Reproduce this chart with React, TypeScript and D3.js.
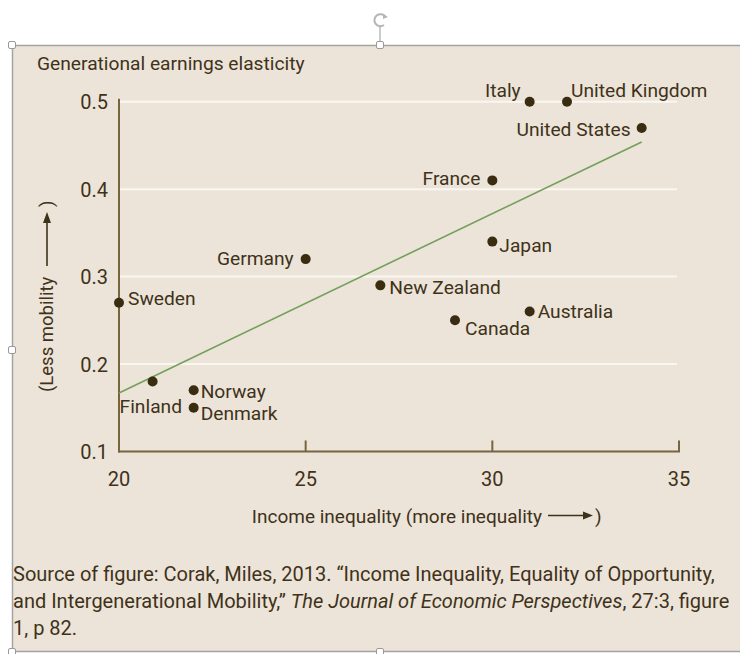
import * as d3 from "d3";

// data (Corak 2013, fig. 1)
const countries = ["Italy", "United Kingdom", "United States", "France", "Japan", "Germany", "New Zealand", "Sweden", "Australia", "Canada", "Finland", "Norway", "Denmark"];
const inequality = [31, 32, 34, 30, 30, 25, 27, 20, 31, 29, 20.9, 22, 22];
const elasticity = [0.5, 0.5, 0.47, 0.41, 0.34, 0.32, 0.29, 0.27, 0.26, 0.25, 0.18, 0.17, 0.15];
const xTicks = [20, 25, 30, 35];
const yTicks = [0.1, 0.2, 0.3, 0.4, 0.5];
const fitX = [20, 34];
const fitY = [0.167, 0.454];
const sourceLines = [
  "Source of figure: Corak, Miles, 2013. \u201cIncome Inequality, Equality of Opportunity,",
  "and Intergenerational Mobility,\u201d ",
  "1, p 82.",
];

const WIDTH = 740;
const HEIGHT = 654;
const FONT = "Roboto, 'Liberation Sans', sans-serif";
const INK = "#3f321a";
const AXIS = "#76653d";
const BG = "#ece4d8";

// label offsets from the dot (px), anchor
const LABELS: Record<string, [number, number, string]> = {
  Italy: [-9, -5, "end"],
  "United Kingdom": [4, -5, "start"],
  "United States": [-11, 8, "end"],
  France: [-12, 5, "end"],
  Japan: [7, 10, "start"],
  Germany: [-12, 6, "end"],
  "New Zealand": [9, 9, "start"],
  Sweden: [9, 2, "start"],
  Australia: [8, 6, "start"],
  Canada: [10, 15, "start"],
  Finland: [-33, 31, "start"],
  Norway: [7, 8, "start"],
  Denmark: [7, 12, "start"],
};

export default function App() {
  const x = d3.scaleLinear().domain([20, 35]).range([119, 679]);
  const y = d3.scaleLinear().domain([0.1, 0.5]).range([451.5, 101.7]);
  const fit = d3.line<number>()
    .x((_, i) => x(fitX[i]))
    .y((d) => y(d));

  const txt = { fontFamily: FONT, fill: INK } as const;

  return (
    <svg width={WIDTH} height={HEIGHT} style={{ position: "absolute", left: 0, top: 0 }}>
      <rect x={0} y={0} width={WIDTH} height={HEIGHT} fill="#fff" />
      {/* panel */}
      <rect x={12.5} y={45.5} width={WIDTH} height={606} fill={BG} stroke="#a3a3a3" strokeWidth={1.5} />

      {/* selection handles */}
      <line x1={380} x2={380} y1={26} y2={42} stroke="#a8a8a8" strokeWidth={1.2} />
      <path d="M385.5,17 A6,6 0 1 0 384,25" fill="none" stroke="#b5b5b5" strokeWidth={2} />
      <path d="M383,14 L388,17 L383,19 Z" fill="#b5b5b5" />
      {[[12, 45], [380, 45], [12, 350], [12, 652], [380, 652]].map(([hx, hy], i) => (
        <rect key={i} x={hx - 3.5} y={hy - 3.5} width={7} height={7} rx={1.5} fill="#fff" stroke="#999" strokeWidth={1} />
      ))}

      {/* title */}
      <text x={37} y={70} fontSize={19.2} {...txt}>Generational earnings elasticity</text>

      {/* gridlines */}
      {yTicks.slice(1).map((t) => (
        <line key={t} x1={x(20)} x2={x(35) - 2} y1={y(t)} y2={y(t)} stroke="#faf7f2" strokeWidth={2} />
      ))}

      {/* axes */}
      <line x1={x(20)} x2={x(20)} y1={y(0.1) + 1} y2={y(0.5) - 3} stroke={AXIS} strokeWidth={2} />
      <line x1={x(20) - 1} x2={x(35) + 1} y1={y(0.1)} y2={y(0.1)} stroke={AXIS} strokeWidth={2} />
      {xTicks.slice(1).map((t) => (
        <line key={t} x1={x(t)} x2={x(t)} y1={y(0.1)} y2={y(0.1) - 11} stroke={AXIS} strokeWidth={2} />
      ))}
      {yTicks.map((t) => (
        <text key={t} x={108} y={y(t) + 7.5} fontSize={20} textAnchor="end" {...txt}>
          {t.toFixed(1)}
        </text>
      ))}
      {xTicks.map((t) => (
        <text key={t} x={x(t)} y={486} fontSize={20} textAnchor="middle" {...txt}>
          {t}
        </text>
      ))}

      {/* axis titles */}
      <text x={542} y={523} fontSize={19} textAnchor="end" {...txt}>Income inequality (more inequality</text>
      <line x1={548} x2={584} y1={515.5} y2={515.5} stroke={INK} strokeWidth={1.6} />
      <path d="M583,511.5 L593,515.5 L583,519.5 Z" fill={INK} />
      <text x={595} y={523} fontSize={19} {...txt}>)</text>

      <text transform="translate(53,392) rotate(-90)" fontSize={18.5} {...txt}>(Less mobility</text>
      <line x1={47} x2={47} y1={266} y2={222} stroke={INK} strokeWidth={1.6} />
      <path d="M43,223 L47,212 L51,223 Z" fill={INK} />
      <text transform="translate(53,207) rotate(-90)" fontSize={18.5} {...txt}>)</text>

      {/* fitted line */}
      <path d={fit(fitY) ?? ""} fill="none" stroke="#72a05a" strokeWidth={1.6} />

      {/* points */}
      {countries.map((c, i) => {
        const cx = x(inequality[i]);
        const cy = y(elasticity[i]);
        const [dx, dy, anchor] = LABELS[c];
        return (
          <g key={c}>
            <circle cx={cx} cy={cy} r={5} fill="#3a2c10" />
            <text x={cx + dx} y={cy + dy} fontSize={19.2} textAnchor={anchor} {...txt}>{c}</text>
          </g>
        );
      })}

      {/* source */}
      <text x={13} y={581} fontSize={20} {...txt}>{sourceLines[0]}</text>
      <text x={13} y={608} fontSize={20} {...txt}>
        {sourceLines[1]}
        <tspan fontStyle="italic">The Journal of Economic Perspectives</tspan>
        {", 27:3, figure"}
      </text>
      <text x={13} y={635} fontSize={20} {...txt}>{sourceLines[2]}</text>
    </svg>
  );
}
